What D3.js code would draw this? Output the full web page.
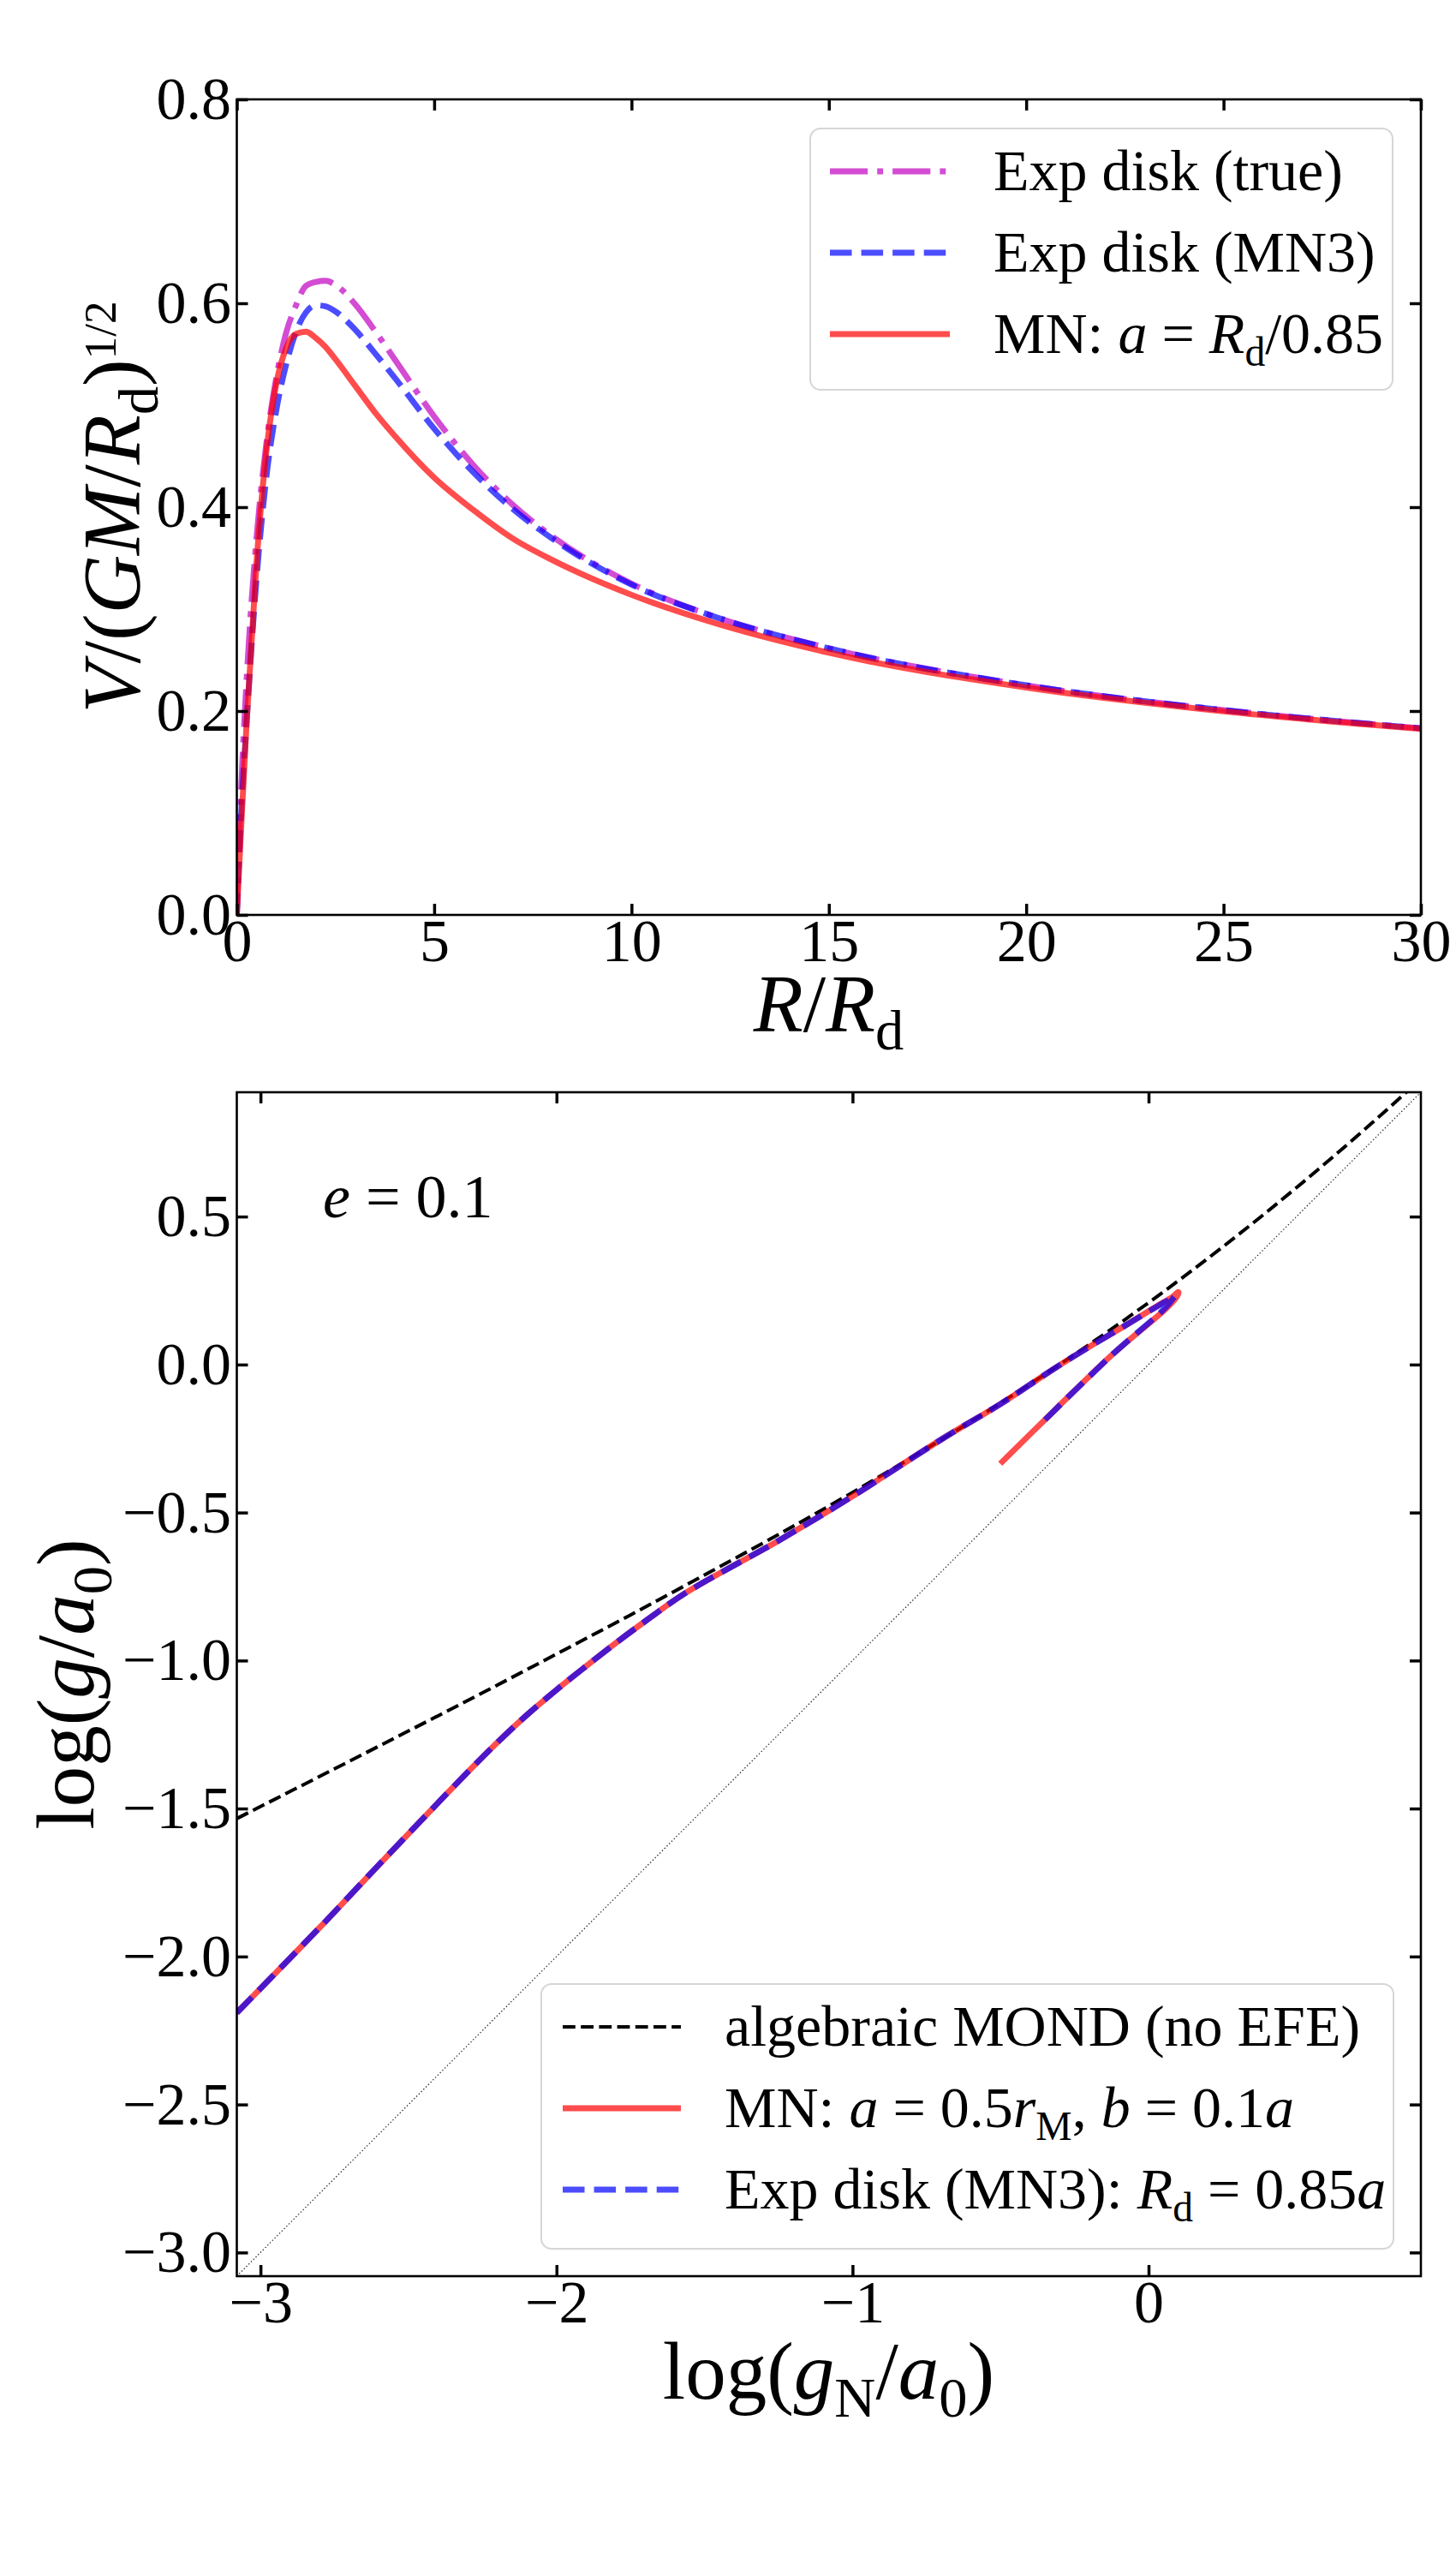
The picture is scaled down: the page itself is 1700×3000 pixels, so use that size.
<!DOCTYPE html>
<html>
<head>
<meta charset="utf-8">
<script src="https://cdn.jsdelivr.net/npm/d3@7"></script>
<style>
  body { margin: 0; background: #fff; }
  svg text { font-family: "Liberation Serif", "Times New Roman", serif; fill: #000; }
</style>
</head>
<body>
<div id="fig"></div>
<script>
// ---- data ----
// top panel: rotation curves, R/Rd vs V/(GM/Rd)^1/2
const rTop = [0, 0.1, 0.25, 0.5, 0.75, 1, 1.25, 1.5, 1.75, 2, 2.25, 2.5, 3, 3.5, 4, 5, 6, 7, 8, 10, 12, 15, 20, 25, 30];
const vExpTrue = [0, 0.114, 0.232, 0.370, 0.463, 0.527, 0.571, 0.598, 0.617, 0.621, 0.622, 0.618, 0.599, 0.573, 0.545, 0.489, 0.441, 0.402, 0.371, 0.325, 0.294, 0.2615, 0.2252, 0.2009, 0.1831];
const vExpMN3 = [0, 0.09, 0.19, 0.33, 0.43, 0.495, 0.54, 0.572, 0.591, 0.598, 0.597, 0.592, 0.574, 0.551, 0.527, 0.477, 0.434, 0.398, 0.369, 0.324, 0.294, 0.2615, 0.2252, 0.2009, 0.1831];
const vMN = [0, 0.078, 0.190, 0.346, 0.455, 0.521, 0.556, 0.570, 0.572, 0.566, 0.557, 0.545, 0.519, 0.493, 0.470, 0.429, 0.397, 0.369, 0.348, 0.314, 0.2876, 0.2572, 0.2231, 0.1997, 0.1825];

// bottom panel: log(gN/a0) vs log(g/a0)
const gNMond = [-3.08, -2.75, -2.5, -2.25, -2, -1.75, -1.5, -1.25, -1, -0.75, -0.5, -0.25, 0, 0.25, 0.5, 0.75, 0.92];
const gMond = [-1.534, -1.366, -1.238, -1.109, -0.978, -0.846, -0.711, -0.574, -0.432, -0.284, -0.130, 0.034, 0.209, 0.397, 0.598, 0.812, 0.965];
const gNMN = [-3.08, -2.8, -2.6, -2.434, -2.3, -2.2, -2.1, -2.0, -1.9, -1.8, -1.7, -1.566, -1.25, -1.0, -0.7, -0.5, -0.313, -0.2, -0.082, 0.034, 0.08, 0.101, 0.095, 0.06, -0.121, -0.313, -0.501];
const gMN = [-2.19, -1.902, -1.69, -1.516, -1.377, -1.277, -1.184, -1.099, -1.019, -0.941, -0.867, -0.773, -0.595, -0.445, -0.253, -0.133, -0.010, 0.06, 0.130, 0.201, 0.228, 0.245, 0.228, 0.19, 0.035, -0.15, -0.335];
const gNMN3 = [-3.08, -2.8, -2.6, -2.434, -2.3, -2.2, -2.1, -2.0, -1.9, -1.8, -1.7, -1.566, -1.25, -1.0, -0.7, -0.5, -0.313, -0.2, -0.082, 0.034, 0.075, 0.09, 0.082, 0.05, -0.121, -0.357];
const gMN3 = [-2.19, -1.902, -1.69, -1.516, -1.377, -1.277, -1.184, -1.099, -1.019, -0.941, -0.867, -0.773, -0.595, -0.445, -0.253, -0.133, -0.010, 0.06, 0.130, 0.199, 0.222, 0.232, 0.222, 0.185, 0.035, -0.194];
const diagLine = [-3.08, 0.92];

// ticks
const xTicksTop = [0, 5, 10, 15, 20, 25, 30];
const yTicksTop = [0, 0.2, 0.4, 0.6, 0.8];
const xTicksBot = [-3, -2, -1, 0];
const yTicksBot = [-3, -2.5, -2, -1.5, -1, -0.5, 0, 0.5];

// ---- layout ----
const width = 1700, height = 3000;
const tickFont = 70, legendFont = 68, labelFont = 95;
const lw = 6.9;

const svg = d3.select("#fig").append("svg")
  .attr("width", width)
  .attr("height", height);

svg.append("rect").attr("width", width).attr("height", height).attr("fill", "#fff");

const xTop = d3.scaleLinear().domain([0, 30]).range([276.5, 1659]);
const yTop = d3.scaleLinear().domain([0, 0.8]).range([1068, 116]);
const xBot = d3.scaleLinear().domain([-3.08, 0.92]).range([276.5, 1659]);
const yBot = d3.scaleLinear().domain([-3.08, 0.92]).range([2657, 1275]);

// writes plain / italic / sub / sup pieces into a text element
function rich(text, parts, size) {
  let shift = 0;
  parts.forEach(p => {
    const target = p.sub ? 0.22 * size : p.sup ? -0.3 * size : 0;
    const ts = text.append("tspan").attr("dy", target - shift).text(p.t);
    shift = target;
    if (p.it) ts.attr("font-style", "italic");
    if (p.sub) ts.attr("font-size", size * 0.7);
    if (p.sup) ts.attr("font-size", size * 0.56);
  });
}

function drawAxes(x, y, xTicks, yTicks, xFmt, yFmt, id) {
  const [x0, x1] = x.range();
  const [y1, y0] = y.range();

  svg.append("clipPath").attr("id", id)
    .append("rect").attr("x", x0).attr("y", y0).attr("width", x1 - x0).attr("height", y1 - y0);

  const style = g => {
    g.select(".domain").remove();
    g.selectAll(".tick line").attr("stroke", "#000").attr("stroke-width", 3.5);
    g.selectAll(".tick text").attr("font-size", tickFont)
      .attr("font-family", "Liberation Serif, Times New Roman, serif");
  };

  svg.append("g").attr("transform", `translate(0,${y1})`)
    .call(d3.axisBottom(x).tickValues(xTicks).tickFormat(xFmt).tickSize(-13).tickPadding(4.5))
    .call(style);
  svg.append("g").attr("transform", `translate(0,${y0})`)
    .call(d3.axisTop(x).tickValues(xTicks).tickFormat("").tickSize(-13))
    .call(style);
  svg.append("g").attr("transform", `translate(${x0},0)`)
    .call(d3.axisLeft(y).tickValues(yTicks).tickFormat(yFmt).tickSize(-13).tickPadding(6.5))
    .call(style);
  svg.append("g").attr("transform", `translate(${x1},0)`)
    .call(d3.axisRight(y).tickValues(yTicks).tickFormat("").tickSize(-13))
    .call(style);

  svg.append("rect")
    .attr("x", x0).attr("y", y0).attr("width", x1 - x0).attr("height", y1 - y0)
    .attr("fill", "none").attr("stroke", "#000").attr("stroke-width", 2.6);
}

function legendBox(x0, y0, x1, y1) {
  svg.append("rect")
    .attr("x", x0).attr("y", y0).attr("width", x1 - x0).attr("height", y1 - y0)
    .attr("rx", 12)
    .attr("fill", "#fff").attr("fill-opacity", 0.8)
    .attr("stroke", "#d6d6d6").attr("stroke-width", 2);
}

// ================= top panel =================
const lineTop = d3.line().x(d => xTop(d[0])).y(d => yTop(d[1])).curve(d3.curveMonotoneX);
const topCurves = [
  { v: vExpTrue, color: "#c000c0", dash: `${6.4 * lw},${1.6 * lw},${1 * lw},${1.6 * lw}` },
  { v: vExpMN3, color: "#0000ff", dash: `${3.7 * lw},${1.6 * lw}` },
  { v: vMN, color: "#ff0000", dash: null }
];

const topPlot = svg.append("g").attr("clip-path", "url(#clipTop)");
topCurves.forEach(c => {
  topPlot.append("path")
    .datum(rTop.map((r, i) => [r, c.v[i]]))
    .attr("d", lineTop)
    .attr("fill", "none")
    .attr("stroke", c.color)
    .attr("stroke-opacity", 0.7)
    .attr("stroke-width", lw)
    .attr("stroke-dasharray", c.dash);
});

drawAxes(xTop, yTop, xTicksTop, yTicksTop, d3.format("d"), d3.format(".1f"), "clipTop");

// top legend
legendBox(946, 150, 1626, 455);
const topLegend = [
  { row: 200, color: "#c000c0", dash: `${6.4 * lw},${1.6 * lw},${1 * lw},${1.6 * lw}`,
    parts: [{ t: "Exp disk (true)" }] },
  { row: 295, color: "#0000ff", dash: `${3.7 * lw},${1.6 * lw}`,
    parts: [{ t: "Exp disk (MN3)" }] },
  { row: 390, color: "#ff0000", dash: null,
    parts: [{ t: "MN: " }, { t: "a", it: true }, { t: " = " }, { t: "R", it: true }, { t: "d", sub: true }, { t: "/0.85" }] }
];
topLegend.forEach(l => {
  svg.append("line")
    .attr("x1", 969).attr("x2", 1109).attr("y1", l.row).attr("y2", l.row)
    .attr("stroke", l.color).attr("stroke-opacity", 0.7)
    .attr("stroke-width", lw).attr("stroke-dasharray", l.dash);
  const t = svg.append("text").attr("x", 1160).attr("y", l.row + 22).attr("font-size", legendFont);
  rich(t, l.parts, legendFont);
});

// top labels
const topXLabel = svg.append("text").attr("x", 967.5).attr("y", 1204)
  .attr("text-anchor", "middle").attr("font-size", labelFont);
rich(topXLabel, [{ t: "R", it: true }, { t: "/" }, { t: "R", it: true }, { t: "d", sub: true }], labelFont);

const topYLabel = svg.append("text")
  .attr("transform", "translate(163,592) rotate(-90)")
  .attr("text-anchor", "middle").attr("font-size", labelFont);
rich(topYLabel, [{ t: "V", it: true }, { t: "/(" }, { t: "GM", it: true }, { t: "/" },
  { t: "R", it: true }, { t: "d", sub: true }, { t: ")" }, { t: "1/2", sup: true }], labelFont);

// ================= bottom panel =================
const lineBot = d3.line().x(d => xBot(d[0])).y(d => yBot(d[1]));
const botPlot = svg.append("g").attr("clip-path", "url(#clipBot)");

botPlot.append("path")
  .datum(diagLine.map(v => [v, v]))
  .attr("d", lineBot)
  .attr("fill", "none").attr("stroke", "#222")
  .attr("stroke-width", 1.3).attr("stroke-dasharray", "1.3,2.6");

botPlot.append("path")
  .datum(gNMond.map((v, i) => [v, gMond[i]]))
  .attr("d", lineBot.curve(d3.curveMonotoneX))
  .attr("fill", "none").attr("stroke", "#000")
  .attr("stroke-width", 4).attr("stroke-dasharray", "14.8,6.4");

const hook = d3.line().x(d => xBot(d[0])).y(d => yBot(d[1])).curve(d3.curveCatmullRom.alpha(0.5));
botPlot.append("path")
  .datum(gNMN.map((v, i) => [v, gMN[i]]))
  .attr("d", hook)
  .attr("fill", "none").attr("stroke", "#ff0000").attr("stroke-opacity", 0.7)
  .attr("stroke-width", lw).attr("stroke-linecap", "butt");

botPlot.append("path")
  .datum(gNMN3.map((v, i) => [v, gMN3[i]]))
  .attr("d", hook)
  .attr("fill", "none").attr("stroke", "#0000ff").attr("stroke-opacity", 0.7)
  .attr("stroke-width", lw).attr("stroke-dasharray", `${3.7 * lw},${1.6 * lw}`);

drawAxes(xBot, yBot, xTicksBot, yTicksBot, d3.format("d"), d3.format(".1f"), "clipBot");

// e = 0.1 annotation
const eText = svg.append("text").attr("x", 377).attr("y", 1421).attr("font-size", 72);
rich(eText, [{ t: "e", it: true }, { t: " = 0.1" }], 72);

// bottom legend
legendBox(632, 2316, 1627, 2625);
const botLegend = [
  { row: 2366, color: "#000", op: 1, w: 4, dash: "14.8,6.4",
    parts: [{ t: "algebraic MOND (no EFE)" }] },
  { row: 2461, color: "#ff0000", op: 0.7, w: lw, dash: null,
    parts: [{ t: "MN: " }, { t: "a", it: true }, { t: " = 0.5" }, { t: "r", it: true }, { t: "M", sub: true },
      { t: ", " }, { t: "b", it: true }, { t: " = 0.1" }, { t: "a", it: true }] },
  { row: 2556, color: "#0000ff", op: 0.7, w: lw, dash: `${3.7 * lw},${1.6 * lw}`,
    parts: [{ t: "Exp disk (MN3): " }, { t: "R", it: true }, { t: "d", sub: true }, { t: " = 0.85" }, { t: "a", it: true }] }
];
botLegend.forEach(l => {
  svg.append("line")
    .attr("x1", 657).attr("x2", 795).attr("y1", l.row).attr("y2", l.row)
    .attr("stroke", l.color).attr("stroke-opacity", l.op)
    .attr("stroke-width", l.w).attr("stroke-dasharray", l.dash);
  const t = svg.append("text").attr("x", 846).attr("y", l.row + 22).attr("font-size", legendFont);
  rich(t, l.parts, legendFont);
});

// bottom labels
const botXLabel = svg.append("text").attr("x", 967.5).attr("y", 2800)
  .attr("text-anchor", "middle").attr("font-size", labelFont);
rich(botXLabel, [{ t: "log(" }, { t: "g", it: true }, { t: "N", sub: true }, { t: "/" },
  { t: "a", it: true }, { t: "0", sub: true }, { t: ")" }], labelFont);

const botYLabel = svg.append("text")
  .attr("transform", "translate(109,1966) rotate(-90)")
  .attr("text-anchor", "middle").attr("font-size", labelFont);
rich(botYLabel, [{ t: "log(" }, { t: "g", it: true }, { t: "/" }, { t: "a", it: true },
  { t: "0", sub: true }, { t: ")" }], labelFont);
</script>
</body>
</html>
